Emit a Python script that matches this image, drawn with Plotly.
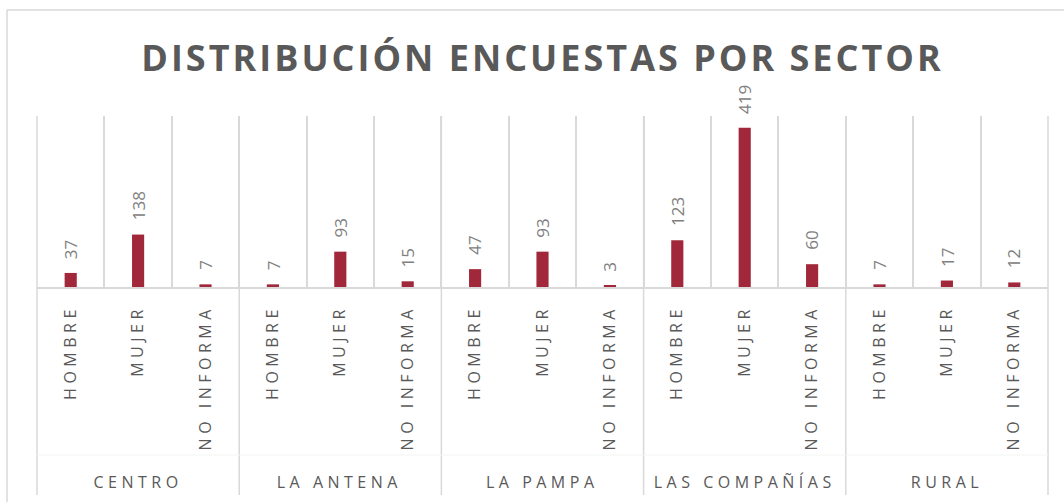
import plotly.graph_objects as go

# Data
SECTORES = ["CENTRO", "LA ANTENA", "LA PAMPA", "LAS COMPAÑÍAS", "RURAL"]
GENEROS = ["HOMBRE", "MUJER", "NO INFORMA"]
CENTRO = [37, 138, 7]
LA_ANTENA = [7, 93, 15]
LA_PAMPA = [47, 93, 3]
LAS_COMPANIAS = [123, 419, 60]
RURAL = [7, 17, 12]
VALORES = [CENTRO, LA_ANTENA, LA_PAMPA, LAS_COMPANIAS, RURAL]

COLORS = {
    'bar': '#a0283a',
    'title': '#595959',
    'tick': '#595959',
    'label': '#808080',
    'grid': '#d9d9d9',
    'border': '#d9d9d9',
}
FONT = "Open Sans, sans-serif"

W, H = 1064, 502
M = dict(l=37, r=16, t=116, b=215)
PW = W - M['l'] - M['r']
PH = H - M['t'] - M['b']


def px_to_paper_x(px):
    return (px - M['l']) / PW


def px_to_paper_y(py):
    return (H - M['b'] - py) / PH


# flatten into one x position per bar
xs, ys, tick_text = [], [], []
for i, vals in enumerate(VALORES):
    for j, v in enumerate(vals):
        xs.append(i * len(GENEROS) + j)
        ys.append(v)
        tick_text.append(GENEROS[j])
n = len(xs)

fig = go.Figure(go.Bar(
    x=xs, y=ys, width=0.18,
    marker=dict(color=COLORS['bar'], line_width=0),
    hoverinfo='y',
))

annotations = []
for x, y in zip(xs, ys):
    annotations.append(dict(
        x=x, y=y, xref='x', yref='y', text=str(y), showarrow=False,
        textangle=-90, yanchor='bottom', xanchor='center', yshift=12,
        font=dict(family=FONT, size=17, color=COLORS['label']),
    ))

n_g = len(GENEROS)
for i, s in enumerate(SECTORES):
    annotations.append(dict(
        x=i * n_g + (n_g - 1) / 2, y=px_to_paper_y(482), xref='x', yref='paper',
        text=s, showarrow=False, yanchor='middle', xanchor='center',
        font=dict(family=FONT, size=16, color=COLORS['tick']),
    ))

shapes = []
# group dividers, down through the label area
for i in range(len(SECTORES) + 1):
    xp = (i * n_g) / n
    shapes.append(dict(type='line', xref='paper', yref='paper',
                       x0=xp, x1=xp, y0=1, y1=px_to_paper_y(495),
                       line=dict(color=COLORS['grid'], width=1.5)))
# faint separator between level labels
shapes.append(dict(type='line', xref='paper', yref='paper',
                   x0=0, x1=1, y0=px_to_paper_y(455), y1=px_to_paper_y(455),
                   line=dict(color='#f4f4f4', width=1)))
# outer chart border
shapes.append(dict(type='line', xref='paper', yref='paper',
                   x0=px_to_paper_x(7), x1=px_to_paper_x(7),
                   y0=px_to_paper_y(10), y1=px_to_paper_y(520),
                   line=dict(color=COLORS['border'], width=1.5)))
shapes.append(dict(type='line', xref='paper', yref='paper',
                   x0=px_to_paper_x(7), x1=px_to_paper_x(1080),
                   y0=px_to_paper_y(10), y1=px_to_paper_y(10),
                   line=dict(color=COLORS['border'], width=1.5)))

fig.update_layout(
    width=W, height=H, margin=M,
    paper_bgcolor='white', plot_bgcolor='white',
    showlegend=False,
    title=dict(text="<b>DISTRIBUCIÓN ENCUESTAS POR SECTOR</b>",
               x=0.5, xref='paper', xanchor='center',
               y=1 - 58 / H, yref='container', yanchor='middle',
               font=dict(family=FONT, size=36, color=COLORS['title'])),
    xaxis=dict(
        range=[-0.5, n - 0.5], tickmode='array', tickvals=xs, ticktext=tick_text,
        tickangle=-90, ticks='', showgrid=False, zeroline=False,
        showline=True, linecolor=COLORS['grid'], linewidth=1.5,
        tickfont=dict(family=FONT, size=16, color=COLORS['tick']),
        ticklabelstandoff=10,
        minor=dict(tickmode='array', tickvals=[k - 0.5 for k in range(n + 1)],
                   showgrid=True, gridcolor=COLORS['grid'], gridwidth=1.5, ticks=''),
        fixedrange=True,
    ),
    yaxis=dict(range=[0, 450], visible=False, fixedrange=True),
    annotations=annotations,
    shapes=shapes,
)

# letter spacing like the original (Excel character spacing)
sel = ", ".join('text[data-unformatted="%s"]' % s for s in SECTORES)
css = ("body { margin: 0; } "
       ".xtick text { letter-spacing: 4.5px; } "
       ".gtitle { letter-spacing: 3px; } "
       + sel + " { letter-spacing: 4.5px; }")
post = ("var st = document.createElement('style'); st.innerHTML = '%s';"
        "document.head.appendChild(st); document.body.style.margin = '0';" % css)

fig.write_html("out.html", post_script=post, config={'displayModeBar': False})
